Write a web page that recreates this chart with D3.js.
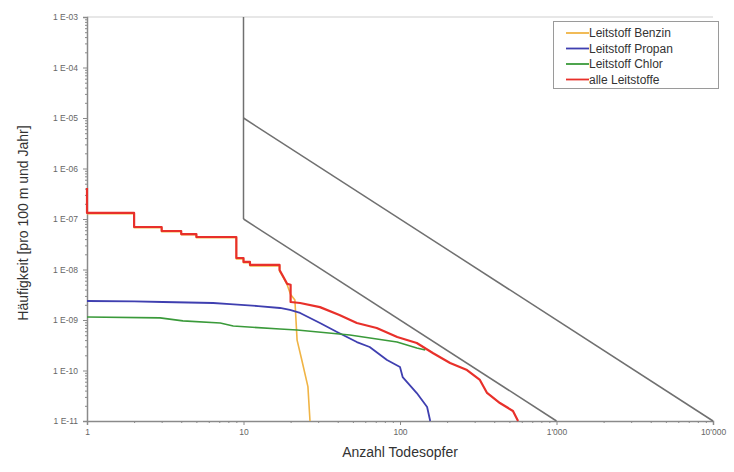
<!DOCTYPE html>
<html><head><meta charset="utf-8">
<script src="https://cdn.jsdelivr.net/npm/d3@7"></script>
<style>body{margin:0;background:#fff}svg{display:block;font-family:"Liberation Sans",Arial,sans-serif}</style>
</head><body><svg id="c" width="734" height="472"></svg>
<script>
// ---- data ----
const xTicks = [1, 10, 100, 1000, 10000];
const xTickLabels = ["1", "10", "100", "1'000", "10'000"];
const yTicks = [1e-3, 1e-4, 1e-5, 1e-6, 1e-7, 1e-8, 1e-9, 1e-10, 1e-11];
const yTickLabels = ["1 E-03", "1 E-04", "1 E-05", "1 E-06", "1 E-07", "1 E-08", "1 E-09", "1 E-10", "1 E-11"];
const seriesNames = ["Leitstoff Benzin", "Leitstoff Propan", "Leitstoff Chlor", "alle Leitstoffe"];

// criteria lines: [N, F]
const limitVertical = [[10, 1e-3], [10, 1e-7]];
const limitUpper = [[10, 1e-5], [10000, 1e-11]];
const limitLower = [[10, 1e-7], [1000, 1e-11]];

const benzinN = [1, 2, 2, 3, 3, 4, 4, 5, 5, 9, 9, 10, 10, 11, 11, 17, 17, 18, 19, 20, 21.3, 22, 23.6, 25.8, 26.6];
const benzinF = [1.28e-7, 1.28e-7, 6.7e-8, 6.7e-8, 5.6e-8, 5.6e-8, 4.9e-8, 4.9e-8, 4.25e-8, 4.25e-8, 1.62e-8, 1.62e-8, 1.36e-8, 1.36e-8, 1.18e-8, 1.18e-8, 9.3e-9, 6.8e-9, 5.0e-9, 3.2e-9, 2.49e-9, 4.0e-10, 1.6e-10, 4.8e-11, 1e-11];

const propanN = [1, 2, 3.06, 6.4, 8.2, 12.4, 17.1, 19.8, 23, 30.8, 39.6, 53, 64, 82.6, 100, 104, 128, 149, 156];
const propanF = [2.38e-9, 2.33e-9, 2.27e-9, 2.17e-9, 2.07e-9, 1.89e-9, 1.73e-9, 1.58e-9, 1.38e-9, 8.7e-10, 5.8e-10, 3.66e-10, 2.92e-10, 1.61e-10, 1.17e-10, 7.4e-11, 3.58e-11, 1.89e-11, 1e-11];

const chlorN = [1, 2.93, 4.1, 7.1, 8.6, 17.1, 22, 47.8, 95.7, 128, 145];
const chlorF = [1.15e-9, 1.1e-9, 9.6e-10, 8.7e-10, 7.6e-10, 6.63e-10, 6.34e-10, 5.05e-10, 3.66e-10, 2.79e-10, 2.55e-10];

const alleN = [1, 1, 2, 2, 3, 3, 4, 4, 5, 5, 9, 9, 10, 10, 11, 11, 17, 17, 18, 19, 20, 20, 23, 30.8, 41, 53, 71, 96, 128, 163, 209, 268, 324, 360, 435, 527, 568];
const alleF = [4.1e-7, 1.32e-7, 1.32e-7, 6.95e-8, 6.95e-8, 5.78e-8, 5.78e-8, 5.04e-8, 5.04e-8, 4.4e-8, 4.4e-8, 1.69e-8, 1.69e-8, 1.41e-8, 1.41e-8, 1.23e-8, 1.23e-8, 9.77e-9, 7.1e-9, 5.2e-9, 5.0e-9, 2.27e-9, 2.17e-9, 1.8e-9, 1.26e-9, 8.7e-10, 6.95e-10, 4.6e-10, 3.5e-10, 2.2e-10, 1.41e-10, 1.02e-10, 6.5e-11, 3.6e-11, 2.27e-11, 1.58e-11, 1e-11];

const colors = ["#f0b445", "#3f3fb0", "#3a9a3a", "#e8302a"];

// ---- drawing ----
const W = 734, H = 472;
const m = {l: 87, t: 17, r: 21, b: 51};
const svg = d3.select("#c");
const x = d3.scaleLog().domain([1, 10000]).range([m.l, W - m.r]);
const y = d3.scaleLog().domain([1e-11, 1e-3]).range([H - m.b, m.t]);

// plot border (top)
svg.append("line").attr("x1", m.l).attr("x2", W - m.r).attr("y1", m.t).attr("y2", m.t)
  .attr("stroke", "#cfcfcf").attr("stroke-width", 1);

// axes
const minorY = [];
for (let e = -11; e < -3; e++) for (let k = 2; k <= 9; k++) minorY.push(k * Math.pow(10, e));
const minorX = [];
for (let e = 0; e < 4; e++) for (let k = 2; k <= 9; k++) minorX.push(k * Math.pow(10, e));

const yAxis = d3.axisLeft(y).tickValues(yTicks).tickFormat((d, i) => yTickLabels[i]).tickSize(4).tickPadding(5);
svg.append("g").attr("transform", `translate(${m.l},0)`).call(yAxis);
const yMinor = d3.axisLeft(y).tickValues(minorY).tickFormat("").tickSize(2);
svg.append("g").attr("transform", `translate(${m.l},0)`).call(yMinor).select(".domain").remove();

const xAxis = d3.axisBottom(x).tickValues(xTicks).tickFormat((d, i) => xTickLabels[i]).tickSize(4).tickPadding(4);
svg.append("g").attr("transform", `translate(0,${H - m.b})`).call(xAxis);
const xMinor = d3.axisBottom(x).tickValues(minorX).tickFormat("").tickSize(2);
svg.append("g").attr("transform", `translate(0,${H - m.b})`).call(xMinor).select(".domain").remove();

svg.selectAll(".domain").attr("stroke", "#8a8a8a").attr("stroke-width", 1.5);
svg.selectAll(".tick line").attr("stroke", "#8a8a8a");
svg.selectAll(".tick text").attr("fill", "#666").attr("font-size", 8.5).attr("font-family", "Liberation Sans, Arial, sans-serif");

// axis titles
svg.append("text").attr("x", (m.l + W - m.r) / 2).attr("y", 457).attr("text-anchor", "middle")
  .attr("font-size", 14).attr("fill", "#333").text("Anzahl Todesopfer");
svg.append("text").attr("transform", `translate(28,${(m.t + H - m.b) / 2 + 4}) rotate(-90)`).attr("text-anchor", "middle")
  .attr("font-size", 14).attr("fill", "#333").text("Häufigkeit [pro 100 m und Jahr]");

const line = d3.line().x(d => x(d[0])).y(d => y(d[1]));

// criteria lines
[limitVertical, limitUpper, limitLower].forEach(seg => {
  svg.append("path").attr("d", line(seg)).attr("fill", "none").attr("stroke", "#707070").attr("stroke-width", 1.5);
});

// curves
const series = [
  {n: benzinN, f: benzinF, w: 1.6},
  {n: propanN, f: propanF, w: 1.8},
  {n: chlorN, f: chlorF, w: 1.6},
  {n: alleN, f: alleF, w: 2.2}
];
series.forEach((s, i) => {
  const pts = s.n.map((v, j) => [v, s.f[j]]);
  svg.append("path").attr("d", line(pts)).attr("fill", "none")
    .attr("stroke", colors[i]).attr("stroke-width", s.w).attr("stroke-linejoin", "round");
});

// legend
const lg = svg.append("g");
lg.append("rect").attr("x", 553.5).attr("y", 21.5).attr("width", 165).attr("height", 67)
  .attr("fill", "#fff").attr("stroke", "#9a9a9a").attr("stroke-width", 1);
seriesNames.forEach((name, i) => {
  const yy = 33 + i * 15.5;
  lg.append("line").attr("x1", 566).attr("x2", 589).attr("y1", yy).attr("y2", yy)
    .attr("stroke", colors[i]).attr("stroke-width", 1.8);
  lg.append("text").attr("x", 589).attr("y", yy + 4).attr("font-size", 12).attr("fill", "#333").text(name);
});
</script>
</body></html>
